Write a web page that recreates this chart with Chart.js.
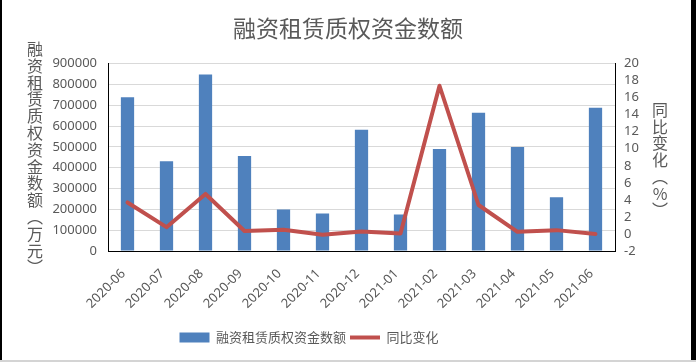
<!DOCTYPE html>
<html>
<head>
<meta charset="utf-8">
<script src="https://cdn.jsdelivr.net/npm/chart.js@4.4.0/dist/chart.umd.min.js"></script>
<style>
  html, body { margin: 0; padding: 0; background: #fff; }
  #wrap { position: relative; width: 696px; height: 362px; overflow: hidden; }
  #chart { position: absolute; left: 0; top: 0; }
  .frame { position: absolute; }
  #frame-l { left: 0; top: 0; width: 2px; height: 362px; background: #000; }
  #frame-r { left: 691px; top: 0; width: 5px; height: 362px; background: #000; }
  #frame-b { left: 0; top: 360px; width: 696px; height: 2px; background: #d4d4d4; }
</style>
</head>
<body>
<div id="wrap">
  <canvas id="chart" width="696" height="362"></canvas>
  <div class="frame" id="frame-l"></div>
  <div class="frame" id="frame-r"></div>
  <div class="frame" id="frame-b"></div>
</div>
<script>
// data
const months = ['2020-06', '2020-07', '2020-08', '2020-09', '2020-10', '2020-11', '2020-12',
  '2021-01', '2021-02', '2021-03', '2021-04', '2021-05', '2021-06'];
const amounts = [738000, 431000, 848000, 456000, 199000, 180000, 582000,
  175000, 490000, 664000, 500000, 258000, 688000];
const yoyChange = [3.7, 0.8, 4.7, 0.35, 0.5, -0.1, 0.3, 0.05, 17.4, 3.4, 0.25, 0.45, 0];

const chartTitle = '融资租赁质权资金数额';
const amountLabel = '融资租赁质权资金数额';
const changeLabel = '同比变化';
const amountAxisTitle = '融资租赁质权资金数额（万元）';
const changeAxisTitle = '同比变化（%）';

const amountMin = 0, amountMax = 900000, amountStep = 100000;
const changeMin = -2, changeMax = 20, changeStep = 2;

const textGray = '#595959';
const cjkFont = '"Noto Sans CJK SC", "Noto Sans", sans-serif';
const tickFont = { family: '"Noto Sans", "DejaVu Sans", sans-serif', size: 13 };

// Excel-style stacked (upright) axis titles
const verticalTitles = {
  id: 'verticalTitles',
  afterLayout(chart) {
    // the legend sits a bit left of centre in the original
    chart.legend.left -= 78;
  },
  afterDraw(chart) {
    const ctx = chart.ctx;
    const drawColumn = (text, x, y, step) => {
      for (let ch of text) {
        if (ch === '（') ch = '︵';
        if (ch === '）') ch = '︶';
        ctx.fillText(ch, x, y);
        y += step;
      }
    };
    ctx.save();
    ctx.fillStyle = textGray;
    ctx.font = '16px ' + cjkFont;
    ctx.textAlign = 'center';
    ctx.textBaseline = 'middle';
    drawColumn(amountAxisTitle, 35, 49, 16.8);
    drawColumn(changeAxisTitle, 660, 110, 16.7);
    ctx.restore();
  }
};

new Chart(document.getElementById('chart'), {
  data: {
    labels: months,
    datasets: [
      {
        type: 'bar',
        label: amountLabel,
        data: amounts,
        backgroundColor: '#4F81BD',
        borderWidth: 0,
        yAxisID: 'y',
        order: 2,
        barPercentage: 0.34,
        categoryPercentage: 1,
      },
      {
        type: 'line',
        label: changeLabel,
        data: yoyChange,
        borderColor: '#C0504D',
        backgroundColor: '#C0504D',
        borderWidth: 4,
        pointRadius: 0,
        tension: 0,
        borderJoinStyle: 'round',
        borderCapStyle: 'round',
        yAxisID: 'y1',
        order: 1,
      },
    ],
  },
  options: {
    responsive: false,
    animation: false,
    devicePixelRatio: 1,
    layout: { padding: { left: 0, right: 0, top: 0, bottom: 8 } },
    plugins: {
      title: {
        display: true,
        text: chartTitle,
        color: textGray,
        font: { family: cjkFont, size: 23, weight: 'normal' },
        padding: { top: 14, bottom: 22 },
      },
      legend: {
        position: 'bottom',
        labels: {
          usePointStyle: true,
          pointStyleWidth: 30,
          boxHeight: 10,
          padding: 4,
          color: textGray,
          font: { family: cjkFont, size: 13 },
          sort: (a, b) => a.datasetIndex - b.datasetIndex,
          generateLabels(chart) {
            const items = Chart.defaults.plugins.legend.labels.generateLabels(chart);
            items.forEach((item) => {
              if (item.datasetIndex === 0) {
                item.pointStyle = 'rect';
                item.lineWidth = 0;
              } else {
                item.pointStyle = 'line';
                item.lineWidth = 4;
              }
            });
            return items;
          },
        },
      },
      tooltip: { enabled: false },
    },
    scales: {
      x: {
        grid: { display: false, drawTicks: false },
        border: { display: true, color: '#000', width: 1 },
        ticks: {
          minRotation: 45, maxRotation: 45, color: textGray, font: tickFont,
          padding: 15, labelOffset: -4,
        },
        afterFit(scale) { scale.height = 76; },
      },
      y: {
        position: 'left',
        min: amountMin,
        max: amountMax,
        ticks: {
          stepSize: amountStep, color: textGray, font: tickFont, padding: 11,
          callback: (v) => String(v),
        },
        grid: { color: '#d9d9d9', drawTicks: false },
        border: { display: true, color: '#000', width: 1 },
        afterFit(scale) { scale.width = 108; },
      },
      y1: {
        position: 'right',
        min: changeMin,
        max: changeMax,
        ticks: {
          stepSize: changeStep, maxTicksLimit: 20, autoSkip: false,
          color: textGray, font: tickFont, padding: 9,
          callback: (v) => String(v),
        },
        grid: { display: false, drawTicks: false },
        border: { display: true, color: '#000', width: 1 },
        afterFit(scale) { scale.width = 81; },
      },
    },
  },
  plugins: [verticalTitles],
});
</script>
</body>
</html>
